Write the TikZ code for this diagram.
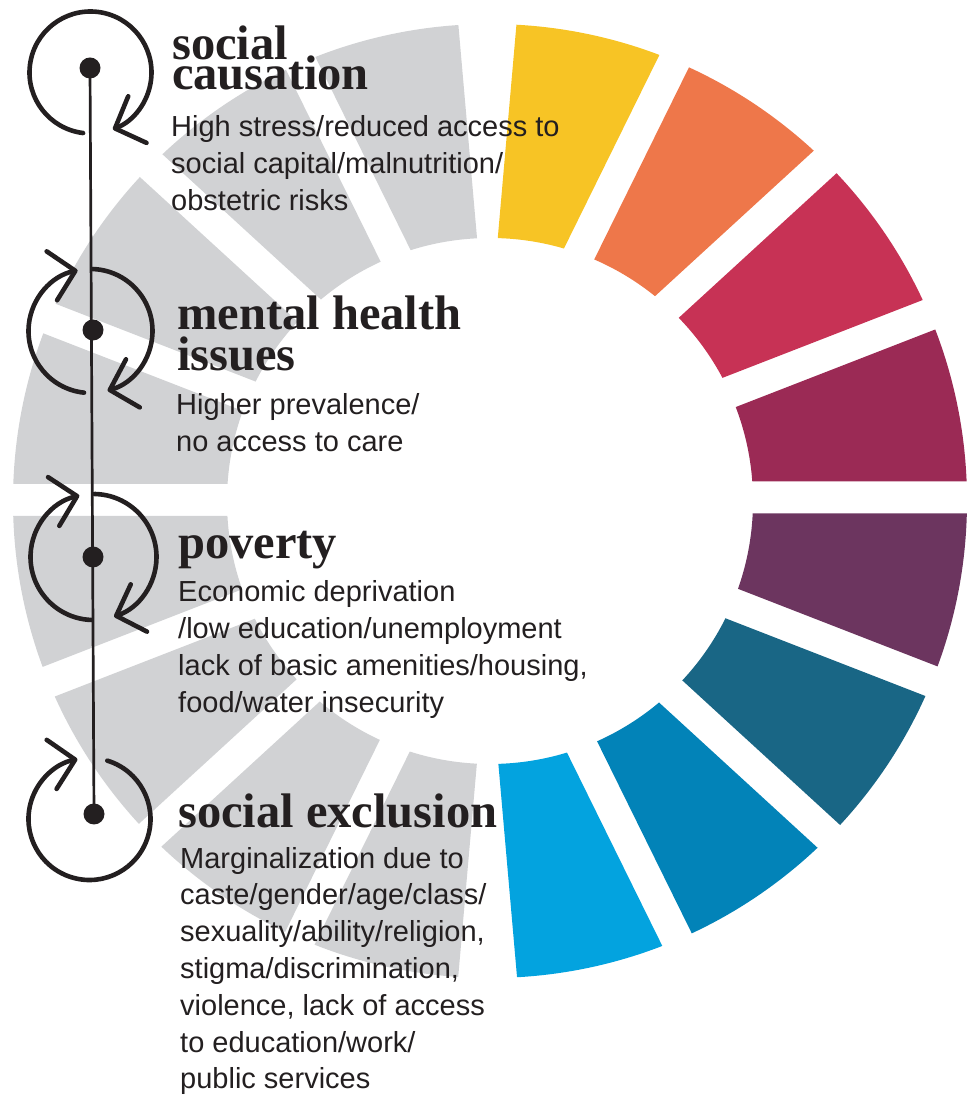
\documentclass[tikz,border=0pt]{standalone}
\usepackage{fontspec}
\setmainfont{Liberation Sans}
\newfontfamily\headserif{Liberation Serif}
\usepackage{xcolor}
\usepackage{tikz}
\usetikzlibrary{calc,arrows.meta}

\definecolor{sdgmaroon}{HTML}{9B2A55}
\definecolor{sdgcrimson}{HTML}{C73255}
\definecolor{sdgorange}{HTML}{EE774A}
\definecolor{sdgyellow}{HTML}{F7C425}
\definecolor{sdgpurple}{HTML}{6C355F}
\definecolor{sdgteal}{HTML}{196685}
\definecolor{sdgblue}{HTML}{0283B8}
\definecolor{sdgsky}{HTML}{03A3DF}
\definecolor{wheelgrey}{HTML}{D1D2D4}
\definecolor{ink}{HTML}{231F20}

\newcommand\tightlead{\lineskiplimit=-100pt\relax}

% multi-line nodes sit on the baseline of their last line
\tikzset{
  heading/.style={anchor=base west, inner sep=0pt, align=left, text=ink,
    font=\headserif\bfseries\fontsize{48.5}{#1}\selectfont\tightlead},
  heading/.default=50,
  blurb/.style={anchor=base west, inner sep=0pt, align=left, text=ink,
    font=\fontsize{29}{36.8}\selectfont},
  dot/.style={circle, fill=ink, inner sep=0pt, minimum size=21pt},
  spine/.style={draw=ink, line width=2.7pt},
  turn/.style={draw=ink, line width=4.6pt, line cap=round,
    -{Straight Barb[length=24pt, width=50pt, round]}},
}

\begin{document}
\begin{tikzpicture}[x=1pt, y=1pt]

  \useasboundingbox (0,0) rectangle (976,1095);

  \coordinate (C) at (490,594);
  \coordinate (P) at (459,597.5);
  \coordinate (Q) at (516,595);

  % coloured half of the wheel
  \foreach \a/\col in {0/sdgmaroon, 21.25/sdgcrimson, 42.5/sdgorange, 63.75/sdgyellow,
      -21.25/sdgpurple, -42.5/sdgteal, -63.75/sdgblue, -85/sdgsky} {
    \begin{scope}
      \path (P) ++(\a+10.625:86.8) coordinate (ap);
      \clip (ap) -- ($(ap)+(\a:900)$) -- ($(ap)+(\a+21.25:900)$) -- cycle;
      \fill[\col, even odd rule] (C) circle[radius=477pt] (C) circle[radius=263pt];
    \end{scope}
  }

  % grey half
  \foreach \a in {95,116.25,...,244} {
    \begin{scope}
      \path (Q) ++(\a+10.625:86.8) coordinate (ap);
      \clip (ap) -- ($(ap)+(\a:900)$) -- ($(ap)+(\a+21.25:900)$) -- cycle;
      \fill[wheelgrey, even odd rule] (C) circle[radius=477pt] (C) circle[radius=263pt];
    \end{scope}
  }

  \node[dot] (d1) at (90,1027) {};
  \node[dot] (d2) at (93,765) {};
  \node[dot] (d3) at (93,538) {};
  \node[dot] (d4) at (94,281) {};
  \draw[spine] (d1.center) -- (d4.center);

  \coordinate (c1) at (90.5,1022.5);
  \coordinate (c2) at (90.5,764);
  \coordinate (c3) at (93.5,538);
  \coordinate (c4) at (89.5,276);

  \draw[turn] ($(c1)+(263:61)$) arc[start angle=263, end angle=-68.5, radius=61pt];
  \draw[turn] ($(c2)+(88:62)$) arc[start angle=88, end angle=-74, radius=62pt];
  \draw[turn] ($(c2)+(264:62)$) arc[start angle=264, end angle=102, radius=62pt];
  \draw[turn] ($(c3)+(89:63)$) arc[start angle=89, end angle=-71, radius=63pt];
  \draw[turn] ($(c3)+(268:63)$) arc[start angle=268, end angle=103, radius=63pt];
  \draw[turn] ($(c4)+(73:61)$) arc[start angle=73, end angle=-258.6, radius=61pt];

  \node[heading=30] (h1) at (172,1005) {social\\causation};
  \node[blurb] (b1) at (171,884.4) {High stress/reduced access to\\social capital/malnutrition/\\obstetric risks};

  \node[heading=41] (h2) at (177,724) {mental health\\issues};
  \node[blurb] (b2) at (176,643.2) {Higher prevalence/\\no access to care};

  \node[heading] (h3) at (178,536) {poverty};
  \node[blurb] (b3) at (178,382.6) {Economic deprivation\\/low education/unemployment\\lack of basic amenities/housing,\\food/water insecurity};

  \node[heading] (h4) at (178,267) {social exclusion};
  \node[blurb] (b4) at (180,6.2) {Marginalization due to\\caste/gender/age/class/\\sexuality/ability/religion,\\stigma/discrimination,\\violence, lack of access\\to education/work/\\public services};

\end{tikzpicture}
\end{document}
